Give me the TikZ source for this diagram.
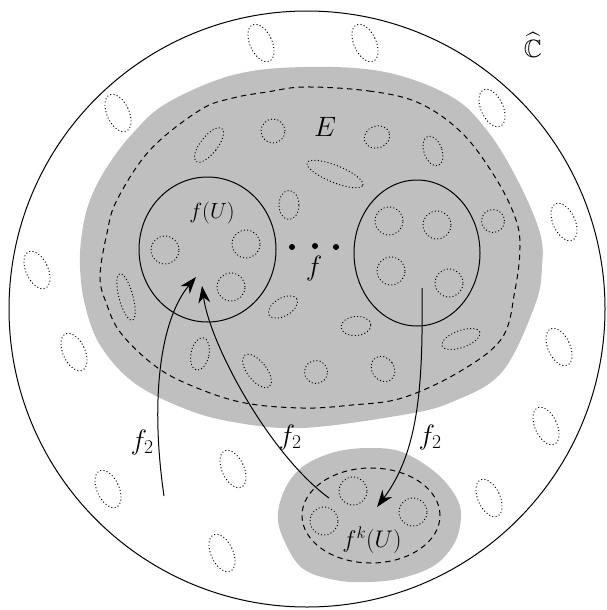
\documentclass[tikz,border=0pt]{standalone}
\usepackage{fix-cm}
\usepackage{amssymb}
\DeclareFontFamily{U}{msb}{}
\DeclareFontShape{U}{msb}{m}{n}{<-> msbm10}{}
\usetikzlibrary{arrows.meta}
\newcommand\dotell[5]{\draw[dotl, rotate around={#5:(#1,#2)}] (#1,#2) ellipse (#3pt and #4pt);}
\newcommand\dotcirc[3]{\draw[dotl] (#1,#2) circle (#3pt);}
\begin{document}
\begin{tikzpicture}[x=1pt,y=-1pt,
  dotl/.style={line width=0.95pt, dash pattern=on 1pt off 2.3pt},
  dashl/.style={line width=1pt, dash pattern=on 5.5pt off 4.2pt},
  solidl/.style={line width=1pt},
  arr/.style={line width=1pt, -{Stealth[length=17pt,width=12pt,inset=5.5pt]}},
  biglab/.style={inner sep=0pt, font=\fontsize{28}{32}\selectfont},
  midlab/.style={inner sep=0pt, font=\fontsize{22}{26}\selectfont},
  greyfill/.style={fill=black!25, draw=none}
]
\useasboundingbox (0,0) rectangle (607,610);

% Riemann sphere
\draw[solidl] (307,309) circle (298pt);

% gray region E
\path[greyfill] plot[smooth cycle, tension=0.6] coordinates {(305,67) (385,72) (452,97) (489,133) (519,183) (540,233) (542,267) (535,305) (502,372) (452,402) (402,415) (302,428) (233,422) (183,408) (133,382) (100,345) (85,305) (80,267) (82,233) (90,200) (107,167) (133,133) (167,103) (233,75)};

% bottom blob
\path[greyfill] plot[smooth cycle, tension=0.6] coordinates {(369,448) (402,452) (435,472) (455,495) (461,515) (455,542) (435,565) (402,578) (369,582) (335,580) (302,568) (283,538) (278,513) (287,485) (305,465) (335,452)};

% dashed boundaries
\draw[dashl] plot[smooth cycle, tension=0.6] coordinates {(305,87) (369,91) (419,103) (462,133) (495,177) (515,217) (520,247) (515,290) (502,338) (459,372) (402,398) (352,405) (302,408) (240,402) (183,382) (150,362) (120,332) (107,305) (100,277) (107,233) (117,200) (150,150) (200,110) (233,98) (267,92)};
\draw[dashl] (371,515.5) ellipse (69pt and 47.5pt);

% outer dotted ellipses
\dotell{261}{43}{11}{20}{25}
\dotell{365}{43}{11}{20}{25}
\dotell{492}{108}{11}{20}{25}
\dotell{118}{113}{11}{20}{25}
\dotell{564}{222}{11}{20}{25}
\dotell{37}{270}{11}{20}{25}
\dotell{74}{352}{11}{20}{25}
\dotell{559}{347}{11}{20}{25}
\dotell{546}{426}{11}{20}{25}
\dotell{108}{489}{11}{20}{25}
\dotell{233}{469}{11}{20}{25}
\dotell{489}{498}{11}{20}{25}
\dotell{222}{553}{11}{20}{25}

% inner dotted shapes in E
\dotcirc{273}{131}{12}
\dotell{209}{145}{8.5}{21}{-38}
\dotell{289}{205}{10}{14.5}{0}
\dotell{126}{297}{7}{24}{15}
\dotell{283}{307}{16}{9}{30}
\dotell{335}{174}{30}{8.5}{-22}
\dotell{377}{137}{13}{11}{20}
\dotell{433}{151}{9}{15.5}{20}
\dotcirc{493}{221}{11.5}
\dotell{200}{354}{9}{16.5}{-12}
\dotell{257}{371}{9.5}{20}{38}
\dotcirc{316}{372}{11.5}
\dotell{383}{369}{11}{13.5}{35}
\dotell{356}{326}{15}{9.5}{5}
\dotell{461}{339}{20}{8.5}{20}

% the two solid discs
\draw[solidl] (207.5,249.5) ellipse (68.5pt and 72.5pt);
\draw[solidl] (417,253) ellipse (63pt and 73pt);
\dotcirc{165}{250}{14}
\dotcirc{246}{244}{14}
\dotcirc{231}{287}{14}
\dotcirc{389}{221}{14}
\dotcirc{437}{225}{14}
\dotcirc{391}{271}{14}
\dotcirc{449}{283}{14}
% small circles in bottom blob
\dotcirc{353}{491}{14}
\dotcirc{413}{512}{14}
\dotcirc{324}{521}{14}

% dots
\fill (292,247) circle (3pt);
\fill (315,246) circle (3pt);
\fill (336,247) circle (3pt);

% arrows
\coordinate (a1s) at (164,496);
\coordinate (a1e) at (196,277);
\coordinate (a2s) at (329,498);
\coordinate (a2e) at (202,286);
\coordinate (a3s) at (422,288);
\coordinate (a3e) at (377,507);
\draw[arr] (a1s) .. controls (150,400) and (160,320) .. (a1e);
\draw[arr] (a2s) .. controls (270,455) and (210,345) .. (a2e);
\draw[arr] (a3s) .. controls (423,380) and (420,450) .. (a3e);

% labels
\node[inner sep=0pt, font=\fontsize{25}{29}\selectfont] (lC) at (533,45) {$\widehat{\mathbb{C}}$};
\node[biglab] (lE) at (325,127) {$E$};
\node[midlab] (lfU) at (212,213) {$f(U)$};
\node[biglab] (lf) at (314,268) {$f$};
\node[inner sep=0pt, font=\fontsize{24}{28}\selectfont] (lfk) at (372,540) {$f^k(U)$};
\node[biglab] (l1) at (142,442) {$f_2$};
\node[biglab] (l2) at (290,437) {$f_2$};
\node[biglab] (l3) at (430,437) {$f_2$};
\end{tikzpicture}
\end{document}
